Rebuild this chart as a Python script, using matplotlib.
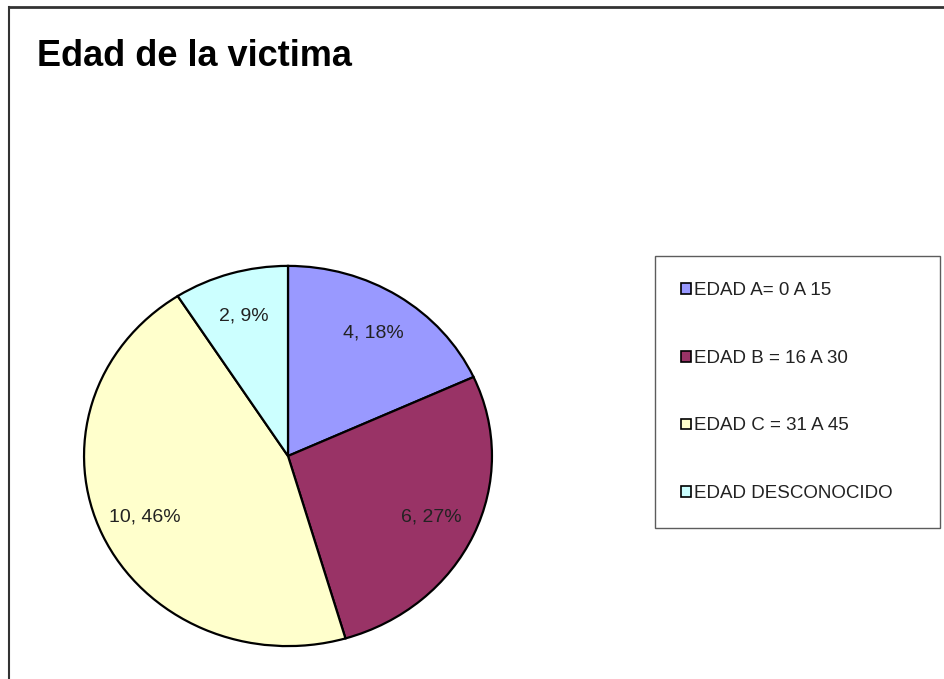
import matplotlib
matplotlib.use("Agg")
from matplotlib import pyplot as plt
from matplotlib.patches import Patch
from matplotlib.lines import Line2D

plt.rcParams['font.family'] = ['Liberation Sans', 'DejaVu Sans']

# pie data
categories = ['EDAD A= 0 A 15', 'EDAD B = 16 A 30', 'EDAD C = 31 A 45', 'EDAD DESCONOCIDO']
counts = [4, 6, 10, 2]
pct_labels = ['18%', '27%', '46%', '9%']
colors = ['#9999FF', '#993366', '#FFFFCC', '#CCFFFF']

W, H = 944, 679
fig = plt.figure(figsize=(W / 100, H / 100), dpi=100)

# frame line top and left, like the excel chart area
fig.add_artist(Line2D([9 / W, 9 / W], [0, 1 - 7 / H], color='#333333', lw=1.5))
fig.add_artist(Line2D([9 / W, 1], [1 - 7 / H, 1 - 7 / H], color='#333333', lw=2))

fig.text(37 / W, 1 - 56 / H, 'Edad de la victima', fontsize=26, fontweight='bold',
         va='center', ha='left')

# pie is a bit wider than tall in the reference
cx, cy, rx, ry = 288, 456, 206, 192
ax = fig.add_axes([(cx - rx) / W, (H - cy - ry) / H, 2 * rx / W, 2 * ry / H])
labels = ['%d, %s' % (c, p) for c, p in zip(counts, pct_labels)]
wedges, texts = ax.pie(counts, colors=colors, startangle=90, counterclock=False,
                       labels=labels, labeldistance=0.77,
                       wedgeprops=dict(edgecolor='black', linewidth=1.6))
for t in texts:
    t.set_ha('center')
    t.set_va('center')
    t.set_fontsize(14)
    t.set_color('#222222')
ax.set_aspect('auto')
ax.set_xlim(-1.01, 1.01)
ax.set_ylim(-1.01, 1.01)
ax.axis('off')

handles = [Patch(facecolor=c, edgecolor='black', linewidth=1.2) for c in colors]
leg = fig.legend(handles, categories, loc='upper left',
                 bbox_to_anchor=(655 / W, 1 - 256 / H - 0.01, 285 / W, 0.01), mode='expand',
                 fontsize=13.5, frameon=True, fancybox=False, edgecolor='#333333',
                 handlelength=0.5, handleheight=0.5, handletextpad=0.2,
                 labelspacing=2.7, borderpad=1.4, borderaxespad=0)
leg.get_frame().set_linewidth(1)
for t in leg.get_texts():
    t.set_color('#222222')

fig.savefig('out.png', dpi=100, facecolor='white')
